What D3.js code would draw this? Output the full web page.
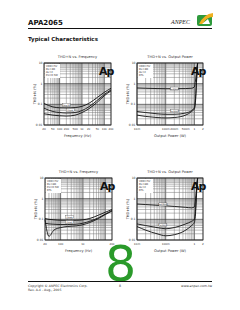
<!DOCTYPE html>
<html>
<head>
<meta charset="utf-8">
<script src="https://cdn.jsdelivr.net/npm/d3@7"></script>
<style>
  body { margin: 0; background: #fff; }
  svg { display: block; font-family: "DejaVu Sans", sans-serif; }
</style>
</head>
<body>
<svg id="page" width="240" height="310"></svg>
<script>
// --- data ---
const freqA = [20, 50, 100, 200, 500, 1000, 2000, 5000, 10000, 20000]
const thdFreqA = [
  [0.11, 0.075, 0.068, 0.067, 0.07, 0.08, 0.11, 0.22, 0.38, 0.6],
  [0.065, 0.045, 0.04, 0.038, 0.04, 0.05, 0.075, 0.16, 0.3, 0.5],
  [0.035, 0.03, 0.028, 0.027, 0.03, 0.04, 0.06, 0.13, 0.26, 0.45]
]
const freqB = [20, 30, 50, 100, 200, 500, 1000, 2000, 5000, 10000, 20000]
const thdFreqB = [
  [0.11, 0.1, 0.095, 0.09, 0.09, 0.09, 0.095, 0.11, 0.16, 0.22, 0.3],
  [0.065, 0.06, 0.058, 0.056, 0.056, 0.058, 0.065, 0.08, 0.12, 0.18, 0.27],
  [0.1, 0.015, 0.03, 0.04, 0.045, 0.048, 0.055, 0.07, 0.11, 0.17, 0.25]
]
const power = [0.01, 0.02, 0.05, 0.1, 0.2, 0.5, 0.8, 1.0, 1.1, 1.2, 1.3]
const thdPowerA = [
  [0.62, 0.6, 0.58, 0.57, 0.57, 0.58, 0.6, 0.7, 1.5, 5, 10],
  [0.045, 0.04, 0.035, 0.033, 0.033, 0.038, 0.05, 0.07, 0.2, 2, 10],
  [0.03, 0.026, 0.023, 0.022, 0.023, 0.03, 0.045, 0.06, 0.15, 1.5, 10]
]
const thdPowerB = [
  [0.55, 0.52, 0.48, 0.45, 0.42, 0.38, 0.36, 0.4, 1, 4, 10],
  [0.06, 0.05, 0.04, 0.035, 0.04, 0.06, 0.08, 0.1, 0.3, 3, 10],
  [0.045, 0.03, 0.02, 0.016, 0.018, 0.03, 0.05, 0.07, 0.2, 2, 10]
]
const yTicks = [0.01, 0.1, 1, 10]
const yTickLabels = ['0.01', '0.1', '1', '10']
const freqTicksA = [20, 50, 100, 200, 500, 1000, 2000, 5000, 10000, 20000]
const freqTickLabelsA = ['20', '50', '100', '200', '500', '1k', '2k', '5k', '10k', '20k']
const freqTicksB = [20, 100, 1000, 20000]
const freqTickLabelsB = ['20', '100', '1k', '20k']
const powTicksA = [0.01, 0.1, 0.2, 0.5, 1, 2]
const powTickLabelsA = ['10m', '100m', '200m', '500m', '1', '2']
const powTicksB = [0.01, 0.1, 1, 2]
const powTickLabelsB = ['10m', '100m', '1', '2']

const svg = d3.select('#page')

// header
svg.append('text').attr('x', 28).attr('y', 25).text('APA2065')
  .style('font', 'bold 7px "DejaVu Sans"').attr('fill', '#111')
svg.append('text').attr('x', 171).attr('y', 23.5).text('ANPEC')
  .style('font', 'italic 6px "Liberation Serif"').attr('fill', '#222')
svg.append('rect').attr('x', 197).attr('y', 15).attr('width', 15).attr('height', 11).attr('rx', 2).attr('fill', '#2e9a3c')
svg.append('path').attr('d', 'M199,24 Q204,14 213,13 L213,17 Q206,17 203,24 Z').attr('fill', '#f0b020')
svg.append('path').attr('d', 'M202,24 L208,19 L210,24 Z').attr('fill', '#fff')
svg.append('line').attr('x1', 28).attr('x2', 212).attr('y1', 28.5).attr('y2', 28.5)
  .attr('stroke', '#111').attr('stroke-width', 1.2)
svg.append('text').attr('x', 28).attr('y', 41).text('Typical Characteristics')
  .style('font', 'bold 5.5px "DejaVu Sans"').attr('fill', '#111')

function minorValues(lo, hi) {
  const out = []
  for (let d = Math.floor(Math.log10(lo)); d <= Math.ceil(Math.log10(hi)); d++) {
    for (let m = 1; m < 10; m++) {
      const v = m * Math.pow(10, d)
      if (v >= lo * 0.999 && v <= hi * 1.001) out.push(v)
    }
  }
  return out
}

function drawChart(c) {
  const x = d3.scaleLog().domain(c.xDomain).range([c.left, c.right])
  const y = d3.scaleLog().domain([0.01, 10]).range([c.bottom, c.top])
  const g = svg.append('g')

  g.append('text').attr('x', (c.left + c.right) / 2).attr('y', c.top - 5).attr('text-anchor', 'middle')
    .text(c.title).style('font', '3.6px "DejaVu Sans"').attr('fill', '#333')

  g.append('rect').attr('x', c.left).attr('y', c.top).attr('width', c.right - c.left)
    .attr('height', c.bottom - c.top).attr('fill', '#fff')

  // grid
  const xs = minorValues(c.xDomain[0], c.xDomain[1])
  g.selectAll('.vx').data(xs).enter().append('line')
    .attr('x1', d => x(d)).attr('x2', d => x(d)).attr('y1', c.top).attr('y2', c.bottom)
    .attr('stroke', d => Math.abs(Math.log10(d) % 1) < 1e-6 ? '#333' : '#777')
    .attr('stroke-width', d => Math.abs(Math.log10(d) % 1) < 1e-6 ? 0.7 : 0.5)
  const ys = minorValues(0.01, 10)
  g.selectAll('.hy').data(ys).enter().append('line')
    .attr('x1', c.left).attr('x2', c.right).attr('y1', d => y(d)).attr('y2', d => y(d))
    .attr('stroke', d => yTicks.includes(d) ? '#333' : '#777')
    .attr('stroke-width', d => yTicks.includes(d) ? 0.7 : 0.5)
  g.append('rect').attr('x', c.left).attr('y', c.top).attr('width', c.right - c.left)
    .attr('height', c.bottom - c.top).attr('fill', 'none').attr('stroke', '#222').attr('stroke-width', 0.8)

  // legend box and Ap logo
  g.append('rect').attr('x', c.left + 1).attr('y', c.top + 1).attr('width', 15).attr('height', 14)
    .attr('fill', '#fff')
  c.legend.forEach((t, i) => {
    g.append('text').attr('x', c.left + 2).attr('y', c.top + 4 + i * 3).text(t)
      .style('font', '2.6px "DejaVu Sans"').attr('fill', '#333')
  })
  g.append('text').attr('x', c.right - 12).attr('y', c.top + 12).text('Ap')
    .style('font', 'bold 11px "DejaVu Sans"').attr('fill', '#111').attr('letter-spacing', -1)

  // curves
  const line = d3.line().x(d => x(d[0])).y(d => y(d[1])).curve(d3.curveMonotoneX)
  c.series.forEach(s => {
    g.append('path').datum(c.xs.map((v, i) => [v, s[i]]))
      .attr('d', line).attr('fill', 'none').attr('stroke', '#111').attr('stroke-width', 0.9)
  })
  c.tags.forEach(t => {
    g.append('rect').attr('x', x(t[0]) - 4).attr('y', y(t[1]) - 2).attr('width', 8).attr('height', 3)
      .attr('fill', '#fff').attr('stroke', '#333').attr('stroke-width', 0.3)
    g.append('text').attr('x', x(t[0])).attr('y', y(t[1]) + 0.5).attr('text-anchor', 'middle')
      .text(t[2]).style('font', '2.2px "DejaVu Sans"').attr('fill', '#222')
  })

  // axes labels
  g.selectAll('.yt').data(yTicks).enter().append('text')
    .attr('x', c.left - 1.5).attr('y', d => y(d) + 1).attr('text-anchor', 'end')
    .text((d, i) => yTickLabels[i]).style('font', '3px "DejaVu Sans"').attr('fill', '#333')
  g.selectAll('.xt').data(c.ticks).enter().append('text')
    .attr('x', d => x(d)).attr('y', c.bottom + 4.8).attr('text-anchor', 'middle')
    .text((d, i) => c.tickLabels[i]).style('font', '2.8px "DejaVu Sans"').attr('fill', '#333')
  g.append('text').attr('transform', `translate(${c.left - 8},${(c.top + c.bottom) / 2}) rotate(-90)`)
    .attr('text-anchor', 'middle').text('THD+N (%)').style('font', '3.6px "DejaVu Sans"').attr('fill', '#333')
  g.append('text').attr('x', (c.left + c.right) / 2).attr('y', c.bottom + 12).attr('text-anchor', 'middle')
    .text(c.xLabel).style('font', '3.6px "DejaVu Sans"').attr('fill', '#333')
}

drawChart({
  left: 44, right: 111, top: 63, bottom: 125, xDomain: [20, 20000],
  title: 'THD+N vs. Frequency', xLabel: 'Frequency (Hz)',
  xs: freqA, series: thdFreqA, ticks: freqTicksA, tickLabels: freqTickLabelsA,
  legend: ['VDD=5V', 'RL=4\u03A9', 'Av=2', 'Po=0.5W'],
  tags: [[200, 0.09, 'Av=10'], [300, 0.05, 'Av=5']]
})
drawChart({
  left: 137, right: 203, top: 63, bottom: 125, xDomain: [0.01, 2],
  title: 'THD+N vs. Output Power', xLabel: 'Output Power (W)',
  xs: power, series: thdPowerA, ticks: powTicksA, tickLabels: powTickLabelsA,
  legend: ['VDD=5V', 'RL=4\u03A9', 'Av=2', 'BTL'],
  tags: [[0.2, 0.55, 'f=20kHz'], [0.2, 0.045, 'f=1kHz']]
})
drawChart({
  left: 45, right: 112, top: 178, bottom: 240, xDomain: [20, 20000],
  title: 'THD+N vs. Frequency', xLabel: 'Frequency (Hz)',
  xs: freqB, series: thdFreqB, ticks: freqTicksB, tickLabels: freqTickLabelsB,
  legend: ['VDD=5V', 'RL=8\u03A9', 'Po=0.5W', 'BTL'],
  tags: [[250, 0.12, 'Av=5'], [250, 0.07, 'Av=2']]
})
drawChart({
  left: 137, right: 203, top: 178, bottom: 240, xDomain: [0.01, 2],
  title: 'THD+N vs. Output Power', xLabel: 'Output Power (W)',
  xs: power, series: thdPowerB, ticks: powTicksB, tickLabels: powTickLabelsB,
  legend: ['VDD=5V', 'RL=8\u03A9', 'Av=2', 'BTL'],
  tags: [[0.08, 0.5, 'f=20kHz'], [0.08, 0.05, 'f=1kHz']]
})

// big green page marker
svg.append('text').attr('x', 120.5).attr('y', 281).attr('text-anchor', 'middle').text('8')
  .style('font', '49px "DejaVu Sans"').attr('fill', '#2a9a2a')

// footer
svg.append('line').attr('x1', 28).attr('x2', 212).attr('y1', 281.5).attr('y2', 281.5)
  .attr('stroke', '#111').attr('stroke-width', 1)
svg.append('text').attr('x', 28).attr('y', 287).text('Copyright \u00A9 ANPEC Electronics Corp.')
  .style('font', '3.2px "DejaVu Sans"').attr('fill', '#333')
svg.append('text').attr('x', 28).attr('y', 291).text('Rev. A.4 - Aug., 2005')
  .style('font', '3.2px "DejaVu Sans"').attr('fill', '#333')
svg.append('text').attr('x', 120).attr('y', 287).attr('text-anchor', 'middle').text('8')
  .style('font', '3.2px "DejaVu Sans"').attr('fill', '#333')
svg.append('text').attr('x', 212).attr('y', 287).attr('text-anchor', 'end').text('www.anpec.com.tw')
  .style('font', '3.2px "DejaVu Sans"').attr('fill', '#333')
</script>
</body>
</html>
